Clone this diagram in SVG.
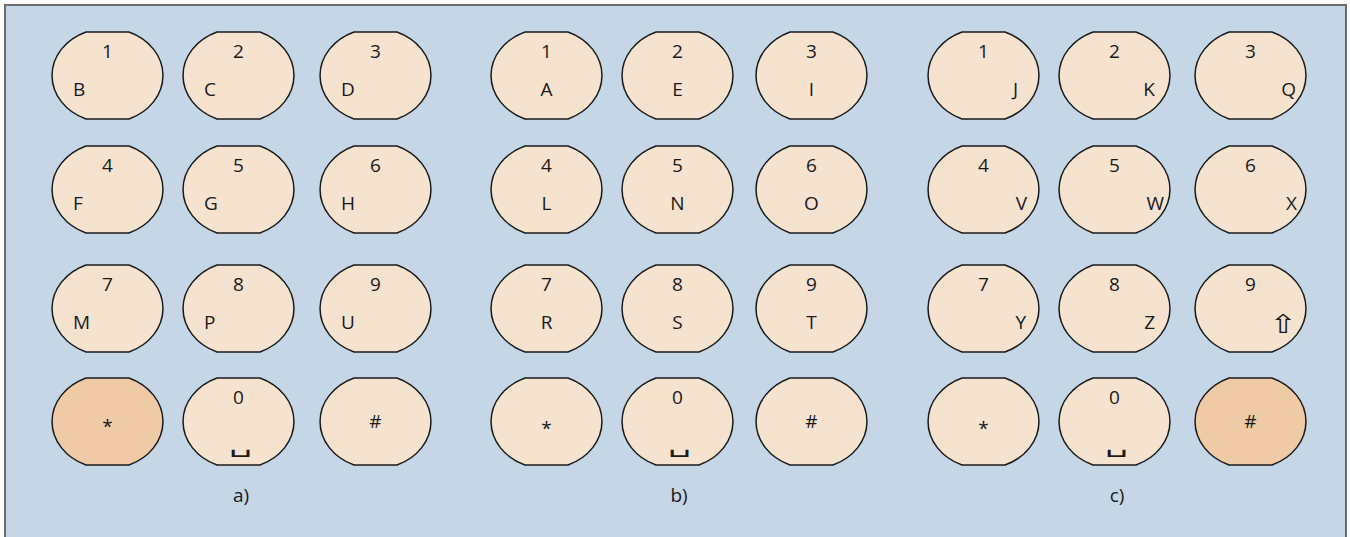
<svg xmlns="http://www.w3.org/2000/svg" width="1350" height="537" viewBox="0 0 1350 537">
<defs>
<path id="k" d="M34,0 H77 A55.5 47.2 0 0 1 77,87 H34 A55.5 47.2 0 0 1 34,0 Z"/>
</defs>
<style>
.key{fill:#f5e2cf;stroke:#1a1a1a;stroke-width:1.5}
.hl{fill:#efcaa6}
text{font-family:"Open Sans","Noto Sans",sans-serif;font-size:19px;fill:#1a1a1a}
.m{text-anchor:middle}
.e{text-anchor:end}
.sp{font-family:"DejaVu Sans",sans-serif;font-size:18px}
.ar{font-family:"DejaVu Sans",sans-serif;font-size:26px}
</style>
<rect x="5" y="5" width="1341" height="545" fill="#c5d6e6" stroke="#6b6b6b" stroke-width="2"/>
<g id="connectors"/>
<!-- group a -->
<g id="a1"><use href="#k" class="key" x="52" y="32"/><text class="m" x="107.5" y="58">1</text><text x="73" y="96">B</text></g>
<g id="a2"><use href="#k" class="key" x="183" y="32"/><text class="m" x="238.5" y="58">2</text><text x="204" y="96">C</text></g>
<g id="a3"><use href="#k" class="key" x="320" y="32"/><text class="m" x="375.5" y="58">3</text><text x="341" y="96">D</text></g>
<g id="a4"><use href="#k" class="key" x="52" y="146"/><text class="m" x="107.5" y="172">4</text><text x="73" y="210">F</text></g>
<g id="a5"><use href="#k" class="key" x="183" y="146"/><text class="m" x="238.5" y="172">5</text><text x="204" y="210">G</text></g>
<g id="a6"><use href="#k" class="key" x="320" y="146"/><text class="m" x="375.5" y="172">6</text><text x="341" y="210">H</text></g>
<g id="a7"><use href="#k" class="key" x="52" y="265"/><text class="m" x="107.5" y="291">7</text><text x="73" y="329">M</text></g>
<g id="a8"><use href="#k" class="key" x="183" y="265"/><text class="m" x="238.5" y="291">8</text><text x="204" y="329">P</text></g>
<g id="a9"><use href="#k" class="key" x="320" y="265"/><text class="m" x="375.5" y="291">9</text><text x="341" y="329">U</text></g>
<g id="astar"><use href="#k" class="key hl" x="52" y="378"/><text class="m" x="107.5" y="433">*</text></g>
<g id="a0"><use href="#k" class="key" x="183" y="378"/><text class="m" x="238.5" y="404">0</text><text class="m sp" transform="translate(241,452) scale(2,1.2)">␣</text></g>
<g id="ahash"><use href="#k" class="key" x="320" y="378"/><text class="m" x="375.5" y="428">#</text></g>
<text id="label-a" class="m" x="241" y="502">a)</text>
<!-- group b -->
<g id="b1"><use href="#k" class="key" x="491" y="32"/><text class="m" x="546.5" y="58">1</text><text class="m" x="546.5" y="96">A</text></g>
<g id="b2"><use href="#k" class="key" x="622" y="32"/><text class="m" x="677.5" y="58">2</text><text class="m" x="677.5" y="96">E</text></g>
<g id="b3"><use href="#k" class="key" x="756" y="32"/><text class="m" x="811.5" y="58">3</text><text class="m" x="811.5" y="96">I</text></g>
<g id="b4"><use href="#k" class="key" x="491" y="146"/><text class="m" x="546.5" y="172">4</text><text class="m" x="546.5" y="210">L</text></g>
<g id="b5"><use href="#k" class="key" x="622" y="146"/><text class="m" x="677.5" y="172">5</text><text class="m" x="677.5" y="210">N</text></g>
<g id="b6"><use href="#k" class="key" x="756" y="146"/><text class="m" x="811.5" y="172">6</text><text class="m" x="811.5" y="210">O</text></g>
<g id="b7"><use href="#k" class="key" x="491" y="265"/><text class="m" x="546.5" y="291">7</text><text class="m" x="546.5" y="329">R</text></g>
<g id="b8"><use href="#k" class="key" x="622" y="265"/><text class="m" x="677.5" y="291">8</text><text class="m" x="677.5" y="329">S</text></g>
<g id="b9"><use href="#k" class="key" x="756" y="265"/><text class="m" x="811.5" y="291">9</text><text class="m" x="811.5" y="329">T</text></g>
<g id="bstar"><use href="#k" class="key" x="491" y="378"/><text class="m" x="546.5" y="435">*</text></g>
<g id="b0"><use href="#k" class="key" x="622" y="378"/><text class="m" x="677.5" y="404">0</text><text class="m sp" transform="translate(680,452) scale(2,1.2)">␣</text></g>
<g id="bhash"><use href="#k" class="key" x="756" y="378"/><text class="m" x="811.5" y="428">#</text></g>
<text id="label-b" class="m" x="679" y="502">b)</text>
<!-- group c -->
<g id="c1"><use href="#k" class="key" x="928" y="32"/><text class="m" x="983.5" y="58">1</text><text class="e" x="1018" y="96">J</text></g>
<g id="c2"><use href="#k" class="key" x="1059" y="32"/><text class="m" x="1114.5" y="58">2</text><text class="e" x="1155" y="96">K</text></g>
<g id="c3"><use href="#k" class="key" x="1195" y="32"/><text class="m" x="1250.5" y="58">3</text><text class="e" x="1296" y="96">Q</text></g>
<g id="c4"><use href="#k" class="key" x="928" y="146"/><text class="m" x="983.5" y="172">4</text><text class="e" x="1027" y="210">V</text></g>
<g id="c5"><use href="#k" class="key" x="1059" y="146"/><text class="m" x="1114.5" y="172">5</text><text class="e" x="1164" y="210">W</text></g>
<g id="c6"><use href="#k" class="key" x="1195" y="146"/><text class="m" x="1250.5" y="172">6</text><text class="e" x="1297" y="210">X</text></g>
<g id="c7"><use href="#k" class="key" x="928" y="265"/><text class="m" x="983.5" y="291">7</text><text class="e" x="1026" y="329">Y</text></g>
<g id="c8"><use href="#k" class="key" x="1059" y="265"/><text class="m" x="1114.5" y="291">8</text><text class="e" x="1155" y="329">Z</text></g>
<g id="c9"><use href="#k" class="key" x="1195" y="265"/><text class="m" x="1250.5" y="291">9</text><text class="m ar" transform="translate(1283,333) scale(1.25,1)">⇧</text></g>
<g id="cstar"><use href="#k" class="key" x="928" y="378"/><text class="m" x="983.5" y="435">*</text></g>
<g id="c0"><use href="#k" class="key" x="1059" y="378"/><text class="m" x="1114.5" y="404">0</text><text class="m sp" transform="translate(1117,452) scale(2,1.2)">␣</text></g>
<g id="chash"><use href="#k" class="key hl" x="1195" y="378"/><text class="m" x="1250.5" y="428">#</text></g>
<text id="label-c" class="m" x="1117" y="502">c)</text>
</svg>
